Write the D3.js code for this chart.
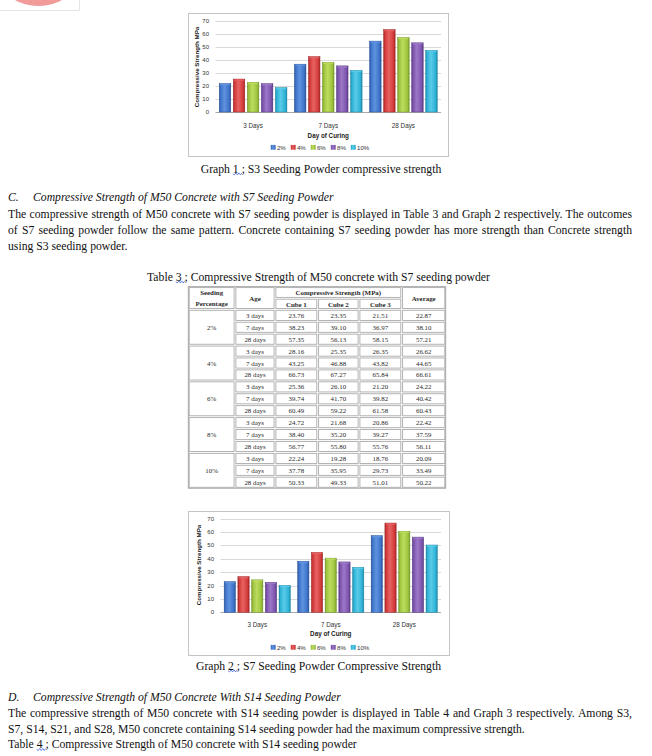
<!DOCTYPE html>
<html><head><meta charset="utf-8">
<script src="https://cdn.jsdelivr.net/npm/d3@7"></script>
<style>body{margin:0;background:#fff} svg{display:block}</style>
</head><body><svg id="page" width="652" height="756"></svg>
<script>
// ---------- DATA ----------
const categories = ["3 Days", "7 Days", "28 Days"];
const seriesNames = ["2%", "4%", "6%", "8%", "10%"];
const yTicks = [0, 10, 20, 30, 40, 50, 60, 70];

// Graph 1 : S3 seeding powder
const s3_2  = [21.9, 36.9, 54.7];
const s3_4  = [25.4, 42.7, 63.6];
const s3_6  = [22.9, 38.4, 57.5];
const s3_8  = [21.9, 35.6, 53.4];
const s3_10 = [18.8, 32.1, 47.6];

// Graph 2 : S7 seeding powder (averages of Table 3)
const s7_2  = [22.87, 38.10, 57.21];
const s7_4  = [26.62, 44.65, 66.61];
const s7_6  = [24.22, 40.42, 60.43];
const s7_8  = [22.42, 37.59, 56.11];
const s7_10 = [20.09, 33.49, 50.22];

// Table 3
const tablePercent = ["2%", "4%", "6%", "8%", "10%"];
const tableAges = ["3 days", "7 days", "28 days"];
const cube1   = ["23.76","38.23","57.35","28.16","43.25","66.73","25.36","39.74","60.49","24.72","38.40","56.77","22.24","37.78","50.33"];
const cube2   = ["23.35","39.10","56.13","25.35","46.88","67.27","26.10","41.70","59.22","21.68","35.20","55.80","19.28","35.95","49.33"];
const cube3   = ["21.51","36.97","58.15","26.35","43.82","65.84","21.20","39.82","61.58","20.86","39.27","55.76","18.76","29.73","51.01"];
const average = ["22.87","38.10","57.21","26.62","44.65","66.61","24.22","40.42","60.43","22.42","37.59","56.11","20.09","33.49","50.22"];

// Texts
const graph1Caption = "Graph 1 ; S3 Seeding Powder compressive strength";
const graph2Caption = "Graph 2 ; S7 Seeding Powder Compressive Strength";
const yAxisTitle = "Compressive Strength MPa";
const xAxisTitle = "Day of Curing";
const headingC = ["C.", "Compressive Strength of M50 Concrete with S7 Seeding Powder"];
const paraC = [
  "The compressive strength of M50 concrete with S7 seeding powder is displayed in Table 3 and Graph 2 respectively. The outcomes",
  "of S7 seeding powder follow the same pattern. Concrete containing S7 seeding powder has more strength than Concrete strength",
  "using S3 seeding powder."
];
const table3Caption = "Table 3 ; Compressive Strength of M50 concrete with S7 seeding powder";
const tableHeaders = ["Seeding", "Percentage", "Age", "Compressive Strength (MPa)", "Cube 1", "Cube 2", "Cube 3", "Average"];
const headingD = ["D.", "Compressive Strength of M50 Concrete With S14 Seeding Powder"];
const paraD = [
  "The compressive strength of M50 concrete with S14 seeding powder is displayed in Table 4 and Graph 3 respectively. Among S3,",
  "S7, S14, S21, and S28, M50 concrete containing S14 seeding powder had the maximum compressive strength.",
  "Table 4 ; Compressive Strength of M50 concrete with S14 seeding powder"
];

// ---------- DRAWING ----------
const svg = d3.select("#page");
svg.append("rect").attr("width", 652).attr("height", 756).attr("fill", "#fff");

const palette = [
  {base:"#3d73c8", dark:"#28509a", light:"#5f93e0"},
  {base:"#d33a3a", dark:"#9e2626", light:"#e86262"},
  {base:"#9dc33c", dark:"#74962a", light:"#bcdc5e"},
  {base:"#7d54ad", dark:"#573a82", light:"#9c78c8"},
  {base:"#2db2d6", dark:"#1c85a3", light:"#5acbe8"}
];
const defs = svg.append("defs");
palette.forEach((c, i) => {
  const g = defs.append("linearGradient").attr("id", "bar" + i)
    .attr("x1", 0).attr("x2", 1).attr("y1", 0).attr("y2", 0);
  [[0, c.dark], [0.12, c.base], [0.45, c.light], [0.85, c.base], [1, c.dark]]
    .forEach(([o, col]) => g.append("stop").attr("offset", o).attr("stop-color", col));
});

// logo fragment top-left
const logo = svg.append("g");
logo.append("clipPath").attr("id", "logoClip").append("rect").attr("x", 0).attr("y", 0).attr("width", 80).attr("height", 10.5);
logo.append("circle").attr("cx", 38.5).attr("cy", -43).attr("r", 49).attr("fill", "#f19b9b").attr("clip-path", "url(#logoClip)");
logo.append("path").attr("d", "M79.5,0 V10.5 H0").attr("fill", "none").attr("stroke", "#e4e4e4");

const serif = "'Liberation Serif','Times New Roman',serif";
const sans = "'Liberation Sans',Arial,sans-serif";
const bodySize = 11.7;

function squiggle(x, y, w) {
  let d = `M${x},${y}`;
  for (let i = 0; x + i * 1.5 < x + w; i++) d += ` L${x + (i + 1) * 1.5},${y + (i % 2 ? -1 : 1)}`;
  svg.append("path").attr("d", d).attr("fill", "none").attr("stroke", "#2a50e0").attr("stroke-width", 0.7);
}

function caption(str, cx, cy, size, markIndex) {
  const t = svg.append("text").attr("x", cx).attr("y", cy).attr("text-anchor", "middle")
    .attr("dominant-baseline", "central").attr("font-family", serif).attr("font-size", size)
    .attr("fill", "#111").text(str);
  if (markIndex != null) {
    const node = t.node();
    const total = node.getComputedTextLength();
    const start = cx - total / 2 + node.getSubStringLength(0, markIndex);
    const w = node.getSubStringLength(markIndex, 2);
    squiggle(start, cy + size * 0.42, w);
  }
  return t;
}

function textLine(str, x, y, opts = {}) {
  const t = svg.append("text").attr("x", x).attr("y", y).attr("dominant-baseline", "central")
    .attr("font-family", serif).attr("font-size", opts.size || bodySize)
    .attr("font-style", opts.italic ? "italic" : "normal").attr("fill", "#111").text(str);
  if (opts.justifyTo) {
    const natural = t.node().getComputedTextLength();
    const spaces = (str.match(/ /g) || []).length;
    if (spaces) t.attr("word-spacing", (opts.justifyTo - x - natural) / spaces);
  }
  return t;
}

function drawChart(cfg) {
  const g = svg.append("g");
  g.append("rect").attr("x", cfg.box[0]).attr("y", cfg.box[1]).attr("width", cfg.box[2]).attr("height", cfg.box[3])
    .attr("fill", "#fff").attr("stroke", "#c4c4c4").attr("stroke-width", 1);
  const y = d3.scaleLinear().domain([0, 70]).range(cfg.yRange);
  const x0 = d3.scaleBand().domain(categories).range(cfg.xRange).paddingInner(0.1).paddingOuter(0.05);
  const x1 = d3.scaleBand().domain(seriesNames).range([0, x0.bandwidth()]).paddingInner(0.18).paddingOuter(0);

  // grid
  g.selectAll(".grid").data(yTicks).enter().append("line")
    .attr("x1", cfg.xRange[0]).attr("x2", cfg.xRange[1])
    .attr("y1", d => Math.round(y(d)) + 0.5).attr("y2", d => Math.round(y(d)) + 0.5)
    .attr("stroke", d => d === 0 ? "#a8a8a8" : "#d9d9d9").attr("stroke-width", 1);
  // y tick labels
  g.selectAll(".yt").data(yTicks).enter().append("text")
    .attr("x", cfg.tickX).attr("y", d => y(d)).attr("text-anchor", "end").attr("dominant-baseline", "central")
    .attr("font-family", sans).attr("font-size", 6).attr("fill", "#333").text(d => d);

  // bars
  cfg.series.forEach((vals, si) => {
    g.selectAll(".b" + si).data(vals).enter().append("g").each(function (v, ci) {
      const bx = x0(categories[ci]) + x1(seriesNames[si]);
      const bw = x1.bandwidth();
      const sel = d3.select(this);
      sel.append("rect").attr("x", bx).attr("y", y(v)).attr("width", bw).attr("height", y(0) - y(v))
        .attr("fill", `url(#bar${si})`).attr("stroke", palette[si].dark).attr("stroke-width", 0.5);
      sel.append("rect").attr("x", bx + 0.8).attr("y", y(v) + 0.3).attr("width", bw - 1.6).attr("height", 1.4)
        .attr("fill", palette[si].light).attr("opacity", 0.9);
    });
  });

  // category labels
  g.selectAll(".cat").data(categories).enter().append("text")
    .attr("x", d => x0(d) + x0.bandwidth() / 2).attr("y", cfg.catY).attr("text-anchor", "middle")
    .attr("dominant-baseline", "central").attr("font-family", sans).attr("font-size", 6.3).attr("fill", "#333").text(d => d);
  // x title
  g.append("text").attr("x", (cfg.xRange[0] + cfg.xRange[1]) / 2).attr("y", cfg.titleY).attr("text-anchor", "middle")
    .attr("dominant-baseline", "central").attr("font-family", sans).attr("font-size", 6.3).attr("font-weight", "bold")
    .attr("fill", "#222").text(xAxisTitle);
  // y title
  g.append("text").attr("transform", `translate(${cfg.yTitleX},${cfg.yTitleY}) rotate(-90)`).attr("text-anchor", "middle")
    .attr("dominant-baseline", "central").attr("font-family", sans).attr("font-size", 6.2).attr("font-weight", "bold")
    .attr("fill", "#222").text(yAxisTitle);

  // legend
  const lg = g.append("g");
  let cx = 0;
  seriesNames.forEach((name, i) => {
    const item = lg.append("g").attr("transform", `translate(${cx},0)`);
    item.append("rect").attr("x", 0).attr("y", -2.4).attr("width", 4.8).attr("height", 4.8).attr("fill", `url(#bar${i})`);
    const t = item.append("text").attr("x", 6.2).attr("y", 0).attr("dominant-baseline", "central")
      .attr("font-family", sans).attr("font-size", 6.1).attr("fill", "#333").text(name);
    cx += 6.2 + t.node().getComputedTextLength() + 5;
  });
  const lw = cx - 5;
  lg.attr("transform", `translate(${cfg.legendCX - lw / 2},${cfg.legendY})`);
}

drawChart({
  box: [188.5, 13.5, 260, 143], xRange: [215.5, 441], yRange: [112, 21.3], tickX: 209,
  catY: 125.5, titleY: 135.7, legendY: 147.3, legendCX: 320, yTitleX: 196, yTitleY: 67,
  series: [s3_2, s3_4, s3_6, s3_8, s3_10]
});
caption(graph1Caption, 321, 169, bodySize, 6);

// Section C
textLine(headingC[0], 8, 197, {italic: true, size: 11.7});
textLine(headingC[1], 33, 197, {italic: true, size: 11.7});
textLine(paraC[0], 8, 214.5, {justifyTo: 632});
textLine(paraC[1], 8, 230.5, {justifyTo: 632});
textLine(paraC[2], 8, 246.5);

// Table 3
caption(table3Caption, 318.5, 277, bodySize, 6);
const colEdges = [188.3, 235, 275, 317.7, 359, 401.7, 445.7];
const headTop = 286.7, headMid = 298.3;
const rowY = d3.scaleLinear().domain([0, cube1.length]).range([309.4, 488.2]);
const tg = svg.append("g");
const cell = (x0, y0, x1, y1) => tg.append("rect").attr("x", x0 + 0.9).attr("y", y0 + 0.9)
  .attr("width", x1 - x0 - 1.8).attr("height", y1 - y0 - 1.8).attr("fill", "none").attr("stroke", "#ababab").attr("stroke-width", 0.9);
tg.append("rect").attr("x", colEdges[0]).attr("y", headTop).attr("width", colEdges[6] - colEdges[0])
  .attr("height", rowY(cube1.length) - headTop).attr("fill", "none").attr("stroke", "#9a9a9a").attr("stroke-width", 0.9);
// header cells
cell(colEdges[0], headTop, colEdges[1], rowY(0));
cell(colEdges[1], headTop, colEdges[2], rowY(0));
cell(colEdges[2], headTop, colEdges[5], headMid);
for (let c = 2; c < 5; c++) cell(colEdges[c], headMid, colEdges[c + 1], rowY(0));
cell(colEdges[5], headTop, colEdges[6], rowY(0));
// body cells
tablePercent.forEach((p, i) => cell(colEdges[0], rowY(i * 3), colEdges[1], rowY(i * 3 + 3)));
cube1.forEach((v, r) => { for (let c = 1; c < 6; c++) cell(colEdges[c], rowY(r), colEdges[c + 1], rowY(r + 1)); });

const tt = (str, x, y, bold) => tg.append("text").attr("x", x).attr("y", y).attr("text-anchor", "middle")
  .attr("dominant-baseline", "central").attr("font-family", serif).attr("font-size", 6.9)
  .attr("font-weight", bold ? "bold" : "normal").attr("fill", "#2a2a2a").text(str);
const mid = (a, b) => (colEdges[a] + colEdges[b]) / 2;
tt(tableHeaders[0], mid(0, 1), 292, true);
tt(tableHeaders[1], mid(0, 1), 303.6, true);
tt(tableHeaders[2], mid(1, 2), 298, true);
tt(tableHeaders[3], mid(2, 5), 292.5, true);
tt(tableHeaders[4], mid(2, 3), 304, true);
tt(tableHeaders[5], mid(3, 4), 304, true);
tt(tableHeaders[6], mid(4, 5), 304, true);
tt(tableHeaders[7], mid(5, 6), 298, true);
tablePercent.forEach((p, i) => tt(p, mid(0, 1), (rowY(i * 3) + rowY(i * 3 + 3)) / 2, false));
cube1.forEach((v, r) => {
  const cy = (rowY(r) + rowY(r + 1)) / 2;
  tt(tableAges[r % 3], mid(1, 2), cy, false);
  tt(cube1[r], mid(2, 3), cy, false);
  tt(cube2[r], mid(3, 4), cy, false);
  tt(cube3[r], mid(4, 5), cy, false);
  tt(average[r], mid(5, 6), cy, false);
});

// Graph 2
drawChart({
  box: [188.5, 511.5, 261, 144], xRange: [220.5, 441], yRange: [612.3, 518.5], tickX: 214,
  catY: 624.5, titleY: 633.5, legendY: 647.3, legendCX: 320, yTitleX: 198, yTitleY: 565,
  series: [s7_2, s7_4, s7_6, s7_8, s7_10]
});
caption(graph2Caption, 318.5, 666, bodySize, 6);

// Section D
textLine(headingD[0], 8, 697, {italic: true, size: 11.7});
textLine(headingD[1], 33, 697, {italic: true, size: 11.7});
textLine(paraD[0], 8, 713.5, {justifyTo: 632});
textLine(paraD[1], 8, 729.5);
const t4 = textLine(paraD[2], 8, 744.5);
{
  const n = t4.node();
  squiggle(8 + n.getSubStringLength(0, 6), 744.5 + 5, n.getSubStringLength(6, 2));
}
</script></body></html>
